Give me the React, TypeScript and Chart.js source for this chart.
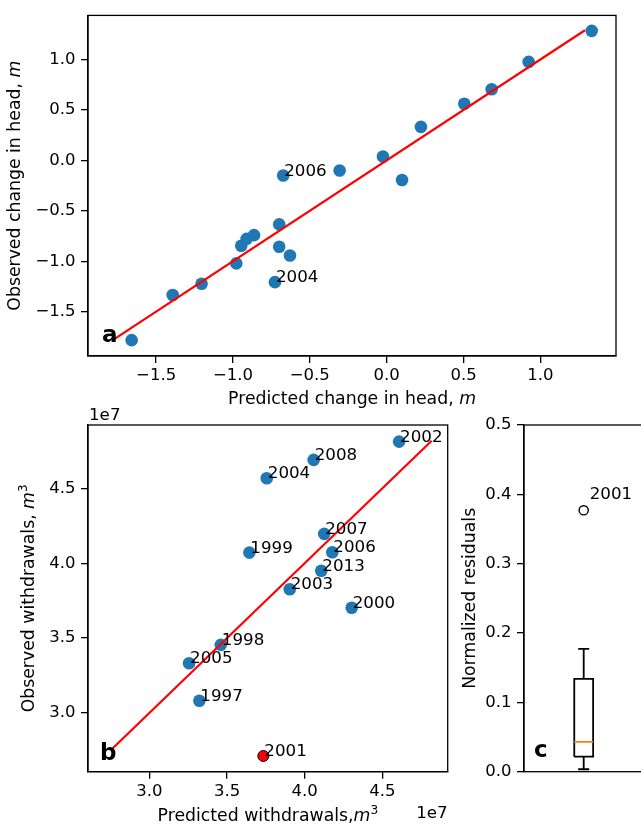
import React, { useEffect, useRef } from 'react';
import { Chart, registerables } from 'chart.js';

Chart.register(...registerables);

const FAMILY = '"DejaVu Sans", "Liberation Sans", sans-serif';
const TICK_SIZE = 16.5;
const TITLE_SIZE = 17.3;
const NOTE_SIZE = 16.7;
const LETTER_SIZE = 23;
const BLUE = '#1f77b4';
const RED = '#ff0000';
const ORANGE = '#ff7f0e';

// ---------- Panel a: change in head ----------
const HEAD_PRED = [-1.659, -1.392, -1.204, -0.978, -0.946, -0.911, -0.863, -0.699, -0.699, -0.629, -0.727, -0.673, -0.306, -0.024, 0.100, 0.223, 0.505, 0.683, 0.924, 1.334];
const HEAD_OBS = [-1.782, -1.334, -1.223, -1.021, -0.846, -0.778, -0.741, -0.634, -0.856, -0.943, -1.207, -0.150, -0.101, 0.039, -0.195, 0.332, 0.562, 0.705, 0.976, 1.284];
const HEAD_LABELS = ['', '', '', '', '', '', '', '', '', '', '2004', '2006', '', '', '', '', '', '', '', ''];
const HEAD_FIT_X = [-1.77, 1.29];
const HEAD_FIT_Y = [-1.77, 1.29];
const HEAD_X_RANGE = [-1.943, 1.492];
const HEAD_Y_RANGE = [-1.939, 1.437];
const HEAD_X_TICKS = [-1.5, -1.0, -0.5, 0.0, 0.5, 1.0];
const HEAD_Y_TICKS = [-1.5, -1.0, -0.5, 0.0, 0.5, 1.0];

// ---------- Panel b: withdrawals ----------
const WD_YEARS = ['1997', '1998', '1999', '2000', '2001', '2002', '2003', '2004', '2005', '2006', '2007', '2008', '2013'];
const WD_PRED = [3.322e7, 3.460e7, 3.644e7, 4.303e7, 3.734e7, 4.608e7, 3.904e7, 3.756e7, 3.256e7, 4.178e7, 4.126e7, 4.058e7, 4.107e7];
const WD_OBS = [3.082e7, 3.455e7, 4.071e7, 3.703e7, 2.713e7, 4.812e7, 3.826e7, 4.567e7, 3.332e7, 4.073e7, 4.196e7, 4.690e7, 3.950e7];
const WD_HIGHLIGHT = '2001';
const WD_FIT_X = [2.751e7, 4.818e7];
const WD_FIT_Y = [2.751e7, 4.818e7];
const WD_X_RANGE = [2.605e7, 4.921e7];
const WD_Y_RANGE = [2.608e7, 4.923e7];
const WD_X_TICKS = [3.0e7, 3.5e7, 4.0e7, 4.5e7];
const WD_Y_TICKS = [3.0e7, 3.5e7, 4.0e7, 4.5e7];

// ---------- Panel c: normalized residuals box plot ----------
const RES_POSITION = 1;
const RES_WHISKER_LOW = 0.0035;
const RES_Q1 = 0.0217;
const RES_MEDIAN = 0.0429;
const RES_Q3 = 0.134;
const RES_WHISKER_HIGH = 0.177;
const RES_OUTLIERS = [0.377];
const RES_OUTLIER_LABELS = ['2001'];
const RES_Y_RANGE = [0, 0.5];
const RES_X_RANGE = [0.5, 1.5];
const RES_Y_TICKS = [0.0, 0.1, 0.2, 0.3, 0.4, 0.5];
const BOX_HALF = 0.079;
const CAP_HALF = 0.046;

type Seg = { t: string; italic?: boolean; sup?: boolean; bold?: boolean };

function segFont(s: Seg, size: number) {
  const sz = s.sup ? size * 0.7 : size;
  return `${s.italic ? 'italic ' : ''}${s.bold ? 'bold ' : ''}${sz}px ${FAMILY}`;
}

function drawRich(ctx: CanvasRenderingContext2D, segs: Seg[], cx: number, cy: number, rotate: boolean, size: number) {
  ctx.save();
  ctx.translate(cx, cy);
  if (rotate) ctx.rotate(-Math.PI / 2);
  ctx.fillStyle = '#000';
  ctx.textBaseline = 'alphabetic';
  ctx.textAlign = 'left';
  let total = 0;
  const widths = segs.map((s) => {
    ctx.font = segFont(s, size);
    const w = ctx.measureText(s.t).width;
    total += w;
    return w;
  });
  let x = -total / 2;
  segs.forEach((s, i) => {
    ctx.font = segFont(s, size);
    ctx.fillText(s.t, x, s.sup ? -size * 0.42 : 0);
    x += widths[i];
  });
  ctx.restore();
}

function drawText(ctx: CanvasRenderingContext2D, text: string, x: number, y: number, align: CanvasTextAlign, font: string) {
  ctx.save();
  ctx.fillStyle = '#000';
  ctx.font = font;
  ctx.textAlign = align;
  ctx.textBaseline = 'alphabetic';
  ctx.fillText(text, x, y);
  ctx.restore();
}

type LabelSet = { ds: number; texts: string[]; dx: number; dy: number };

function decor(id: string, labelSets: LabelSet[], extra: (ctx: CanvasRenderingContext2D, a: any) => void) {
  return {
    id,
    afterDatasetsDraw(chart: any) {
      const ctx = chart.ctx as CanvasRenderingContext2D;
      const a = chart.chartArea;
      ctx.save();
      ctx.strokeStyle = '#000';
      ctx.lineWidth = 1.3;
      ctx.strokeRect(a.left, a.top, a.right - a.left, a.bottom - a.top);
      ctx.restore();
      labelSets.forEach((ls) => {
        const meta = chart.getDatasetMeta(ls.ds);
        meta.data.forEach((el: any, j: number) => {
          const t = ls.texts[j];
          if (!t) return;
          drawText(ctx, t, el.x + ls.dx, el.y + ls.dy, 'left', `${NOTE_SIZE}px ${FAMILY}`);
        });
      });
      extra(ctx, a);
    },
  };
}

function fmtMinus(v: number, digits: number) {
  const s = Math.abs(v).toFixed(digits);
  return v < -1e-12 ? '\u2212' + s : s;
}

function axis(range: number[], ticks: number[], fmt: (v: number) => string, horizontal: boolean, fit: number, pad: number, show = true) {
  return {
    type: 'linear',
    display: show,
    min: range[0],
    max: range[1],
    afterBuildTicks: (s: any) => {
      s.ticks = ticks.map((v) => ({ value: v }));
    },
    afterFit: (s: any) => {
      if (horizontal) s.height = fit;
      else s.width = fit;
    },
    grid: {
      display: true,
      drawOnChartArea: false,
      drawTicks: true,
      tickLength: 7,
      lineWidth: 1.3,
      tickWidth: 1.3,
      color: '#000',
      tickColor: '#000',
    },
    border: { display: true, color: '#000', width: 1.3 },
    ticks: {
      color: '#000',
      font: { family: FAMILY, size: TICK_SIZE },
      padding: pad,
      autoSkip: false,
      maxRotation: 0,
      minRotation: 0,
      callback: (v: any) => fmt(Number(v)),
    },
    title: { display: false },
  };
}

const baseOptions = (padding: any) => ({
  responsive: false,
  animation: false,
  events: [],
  layout: { padding },
  plugins: { legend: { display: false }, tooltip: { enabled: false } },
});

export default function App() {
  const refA = useRef<HTMLCanvasElement>(null);
  const refB = useRef<HTMLCanvasElement>(null);
  const refC = useRef<HTMLCanvasElement>(null);

  useEffect(() => {
    Chart.defaults.font.family = FAMILY;
    Chart.defaults.color = '#000';
    const charts: Chart[] = [];

    // ----- Panel a -----
    const chartA = new Chart(refA.current!, {
      type: 'scatter',
      data: {
        datasets: [
          {
            data: HEAD_FIT_X.map((x, i) => ({ x, y: HEAD_FIT_Y[i] })),
            showLine: true,
            borderColor: RED,
            borderWidth: 2.2,
            pointRadius: 0,
            fill: false,
          },
          {
            data: HEAD_PRED.map((x, i) => ({ x, y: HEAD_OBS[i] })),
            backgroundColor: BLUE,
            borderColor: BLUE,
            borderWidth: 0,
            pointRadius: 6.3,
          },
        ],
      } as any,
      options: {
        ...baseOptions({ top: 10, right: 25, left: 0, bottom: 0 }),
        scales: {
          x: axis(HEAD_X_RANGE, HEAD_X_TICKS, (v) => fmtMinus(v, 1), true, 59, 3),
          y: axis(HEAD_Y_RANGE, HEAD_Y_TICKS, (v) => fmtMinus(v, 1), false, 88, 5.5),
        },
      } as any,
      plugins: [
        decor('decorA', [{ ds: 1, texts: HEAD_LABELS, dx: 1, dy: 0 }], (ctx, a) => {
          drawRich(ctx, [{ t: 'Predicted change in head, ' }, { t: 'm', italic: true }], (a.left + a.right) / 2, a.bottom + 48, false, TITLE_SIZE);
          drawRich(ctx, [{ t: 'Observed change in head, ' }, { t: 'm', italic: true }], a.left - 68, (a.top + a.bottom) / 2, true, TITLE_SIZE);
          drawText(ctx, 'a', a.left + 14, a.bottom - 14.3, 'left', `bold ${LETTER_SIZE}px ${FAMILY}`);
        }),
      ],
    });
    charts.push(chartA);

    // ----- Panel b -----
    const normalIdx = WD_YEARS.map((_, i) => i).filter((i) => WD_YEARS[i] !== WD_HIGHLIGHT);
    const hiIdx = WD_YEARS.map((_, i) => i).filter((i) => WD_YEARS[i] === WD_HIGHLIGHT);
    const chartB = new Chart(refB.current!, {
      type: 'scatter',
      data: {
        datasets: [
          {
            data: WD_FIT_X.map((x, i) => ({ x, y: WD_FIT_Y[i] })),
            showLine: true,
            borderColor: RED,
            borderWidth: 2.2,
            pointRadius: 0,
            fill: false,
          },
          {
            data: hiIdx.map((i) => ({ x: WD_PRED[i], y: WD_OBS[i] })),
            backgroundColor: RED,
            borderColor: '#000',
            borderWidth: 1,
            pointRadius: 5.5,
          },
          {
            data: normalIdx.map((i) => ({ x: WD_PRED[i], y: WD_OBS[i] })),
            backgroundColor: BLUE,
            borderColor: BLUE,
            borderWidth: 0,
            pointRadius: 6.3,
          },
        ],
      } as any,
      options: {
        ...baseOptions({ top: 25, right: 14.3, left: 0, bottom: 0 }),
        scales: {
          x: axis(WD_X_RANGE, WD_X_TICKS, (v) => (v / 1e7).toFixed(1), true, 56.3, 3),
          y: axis(WD_Y_RANGE, WD_Y_TICKS, (v) => (v / 1e7).toFixed(1), false, 88, 5.5),
        },
      } as any,
      plugins: [
        decor(
          'decorB',
          [
            { ds: 1, texts: hiIdx.map((i) => WD_YEARS[i]), dx: 1, dy: 0 },
            { ds: 2, texts: normalIdx.map((i) => WD_YEARS[i]), dx: 1, dy: 0 },
          ],
          (ctx, a) => {
            drawRich(ctx, [{ t: 'Predicted withdrawals,' }, { t: 'm', italic: true }, { t: '3', sup: true }], (a.left + a.right) / 2, a.bottom + 49.3, false, TITLE_SIZE);
            drawRich(ctx, [{ t: 'Observed withdrawals, ' }, { t: 'm', italic: true }, { t: '3', sup: true }], a.left - 53.6, (a.top + a.bottom) / 2, true, TITLE_SIZE);
            drawText(ctx, '1e7', a.left + 1, a.top - 5, 'left', `${NOTE_SIZE}px ${FAMILY}`);
            drawText(ctx, '1e7', a.right, a.bottom + 46.3, 'right', `${NOTE_SIZE}px ${FAMILY}`);
            drawText(ctx, 'b', a.left + 12, a.bottom - 11.7, 'left', `bold ${LETTER_SIZE}px ${FAMILY}`);
          }
        ),
      ],
    });
    charts.push(chartB);

    // ----- Panel c -----
    const line = (pts: { x: number; y: number }[], color: string) => ({
      data: pts,
      showLine: true,
      borderColor: color,
      borderWidth: 1.8,
      pointRadius: 0,
      fill: false,
      tension: 0,
    });
    const chartC = new Chart(refC.current!, {
      type: 'scatter',
      data: {
        datasets: [
          {
            data: RES_OUTLIERS.map((y) => ({ x: RES_POSITION, y })),
            backgroundColor: 'rgba(0,0,0,0)',
            borderColor: '#000',
            borderWidth: 1.4,
            pointRadius: 4.6,
          },
          line(
            [
              { x: RES_POSITION - BOX_HALF, y: RES_MEDIAN },
              { x: RES_POSITION + BOX_HALF, y: RES_MEDIAN },
            ],
            ORANGE
          ),
          line(
            [
              { x: RES_POSITION - BOX_HALF, y: RES_Q1 },
              { x: RES_POSITION + BOX_HALF, y: RES_Q1 },
              { x: RES_POSITION + BOX_HALF, y: RES_Q3 },
              { x: RES_POSITION - BOX_HALF, y: RES_Q3 },
              { x: RES_POSITION - BOX_HALF, y: RES_Q1 },
            ],
            '#000'
          ),
          line(
            [
              { x: RES_POSITION, y: RES_WHISKER_LOW },
              { x: RES_POSITION, y: RES_Q1 },
            ],
            '#000'
          ),
          line(
            [
              { x: RES_POSITION, y: RES_Q3 },
              { x: RES_POSITION, y: RES_WHISKER_HIGH },
            ],
            '#000'
          ),
          line(
            [
              { x: RES_POSITION - CAP_HALF, y: RES_WHISKER_LOW },
              { x: RES_POSITION + CAP_HALF, y: RES_WHISKER_LOW },
            ],
            '#000'
          ),
          line(
            [
              { x: RES_POSITION - CAP_HALF, y: RES_WHISKER_HIGH },
              { x: RES_POSITION + CAP_HALF, y: RES_WHISKER_HIGH },
            ],
            '#000'
          ),
        ],
      } as any,
      options: {
        ...baseOptions({ top: 25, right: 6.6, left: 0, bottom: 56.3 }),
        scales: {
          x: axis(RES_X_RANGE, [], (v) => String(v), true, 0, 3, false),
          y: axis(RES_Y_RANGE, RES_Y_TICKS, (v) => v.toFixed(1), false, 74, 5.5),
        },
      } as any,
      plugins: [
        decor('decorC', [{ ds: 0, texts: RES_OUTLIER_LABELS, dx: 6, dy: -11 }], (ctx, a) => {
          drawRich(ctx, [{ t: 'Normalized residuals' }], a.left - 49, (a.top + a.bottom) / 2, true, TITLE_SIZE);
          drawText(ctx, 'c', a.left + 10, a.bottom - 14.4, 'left', `bold ${LETTER_SIZE}px ${FAMILY}`);
        }),
      ],
    });
    charts.push(chartC);

    return () => charts.forEach((c) => c.destroy());
  }, []);

  const abs = (left: number, top: number, w: number, h: number): React.CSSProperties => ({
    position: 'absolute',
    left,
    top,
    width: w,
    height: h,
  });

  return (
    <div style={{ position: 'fixed', left: 0, top: 0, width: 641, height: 828, overflow: 'hidden', background: '#fff' }}>
      <canvas ref={refA} width={641} height={415} style={abs(0, 0, 641, 415)} />
      <canvas ref={refB} width={462} height={428} style={abs(0, 400, 462, 428)} />
      <canvas ref={refC} width={200} height={428} style={abs(450, 400, 200, 428)} />
    </div>
  );
}
